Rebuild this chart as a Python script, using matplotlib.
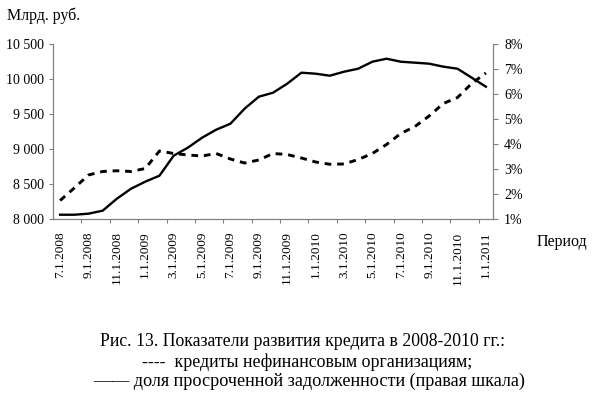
import matplotlib
matplotlib.use("Agg")
import matplotlib.pyplot as plt
import numpy as np
from matplotlib.ticker import FuncFormatter, FixedLocator

plt.rcParams['font.family'] = ['Liberation Serif', 'DejaVu Serif']

# monthly periods 7.1.2008 .. 1.1.2011
periods = []
for k in range(31):
    m = 7 + k
    y = 2008 + (m - 1) // 12
    m = (m - 1) % 12 + 1
    periods.append(f"{m}.1.{y}")

# solid line, left scale (bln rub)
credits = [8061, 8061, 8076, 8119, 8290, 8433, 8533, 8619, 8904, 9019,
           9161, 9276, 9361, 9576, 9747, 9804, 9933, 10090, 10076, 10047,
           10104, 10147, 10247, 10290, 10247, 10233, 10219, 10176, 10147,
           10019, 9890]

# dashed line, right scale (%)
overdue = [1.74, 2.24, 2.76, 2.90, 2.93, 2.90, 3.02, 3.72, 3.62, 3.56,
           3.52, 3.62, 3.40, 3.24, 3.36, 3.62, 3.58, 3.44, 3.28, 3.19,
           3.20, 3.38, 3.62, 3.98, 4.42, 4.70, 5.12, 5.62, 5.86, 6.42,
           6.84]

caption = ["Рис. 13. Показатели развития кредита в 2008-2010 гг.:",
           "----  кредиты нефинансовым организациям;",
           "—— доля просроченной задолженности (правая шкала)"]

grey = '#808080'
fs = 10

fig = plt.figure(figsize=(5.95, 3.95), dpi=100)
ax = fig.add_axes([53 / 595, 1 - 219 / 395, 440 / 595, 175 / 395])
ax2 = ax.twinx()

x = np.arange(len(periods))
ax.plot(x, credits, color='black', lw=1.7, solid_joinstyle='round')
ax2.plot(x, overdue, color='black', lw=2.1, linestyle=(0, (2.3, 2.0)))

ax.set_xlim(-0.5, len(periods) - 0.5)
ax.set_ylim(8000, 10500)
ax.set_yticks(np.arange(8000, 10501, 500))
ax.yaxis.set_major_formatter(FuncFormatter(lambda v, p: f"{int(v):,}".replace(",", " ")))
ax2.set_ylim(1, 8)
ax2.set_yticks(np.arange(1, 9, 1))
ax2.yaxis.set_major_formatter(FuncFormatter(lambda v, p: f"{int(v)}%"))

ax.set_xticks(x[::2])
ax.set_xticklabels(periods[::2], rotation=90)
ax.xaxis.set_minor_locator(FixedLocator(np.arange(1.5, len(periods) - 1, 2)))
ax.tick_params(axis='x', which='major', length=0, pad=9, labelsize=9.5)
ax.tick_params(axis='x', which='minor', length=3, width=0.8, color=grey, direction='out')
ax.tick_params(axis='y', length=3, width=0.8, color=grey, pad=3.5, labelsize=fs)
ax2.tick_params(axis='y', length=3.5, width=0.8, color=grey, pad=4.5, labelsize=fs)

for a in (ax, ax2):
    a.spines['top'].set_visible(False)
    for s in ('left', 'right', 'bottom'):
        a.spines[s].set_color(grey)
        a.spines[s].set_linewidth(0.8)

fig.text(7 / 595, 1 - 16 / 395, "Млрд. руб.", fontsize=11.5, va='center', ha='left')
fig.text(537 / 595, 1 - 242 / 395, "Период", fontsize=11.5, va='center', ha='left')

cap_x = [100, 142, 93]
cap_y = [342, 362, 381]
cap_fs = [12.8, 12.9, 13.1]
for t, cx, cy, cf in zip(caption, cap_x, cap_y, cap_fs):
    fig.text(cx / 595, 1 - cy / 395, t, fontsize=cf, va='center', ha='left')

fig.savefig("out.png", dpi=100)
